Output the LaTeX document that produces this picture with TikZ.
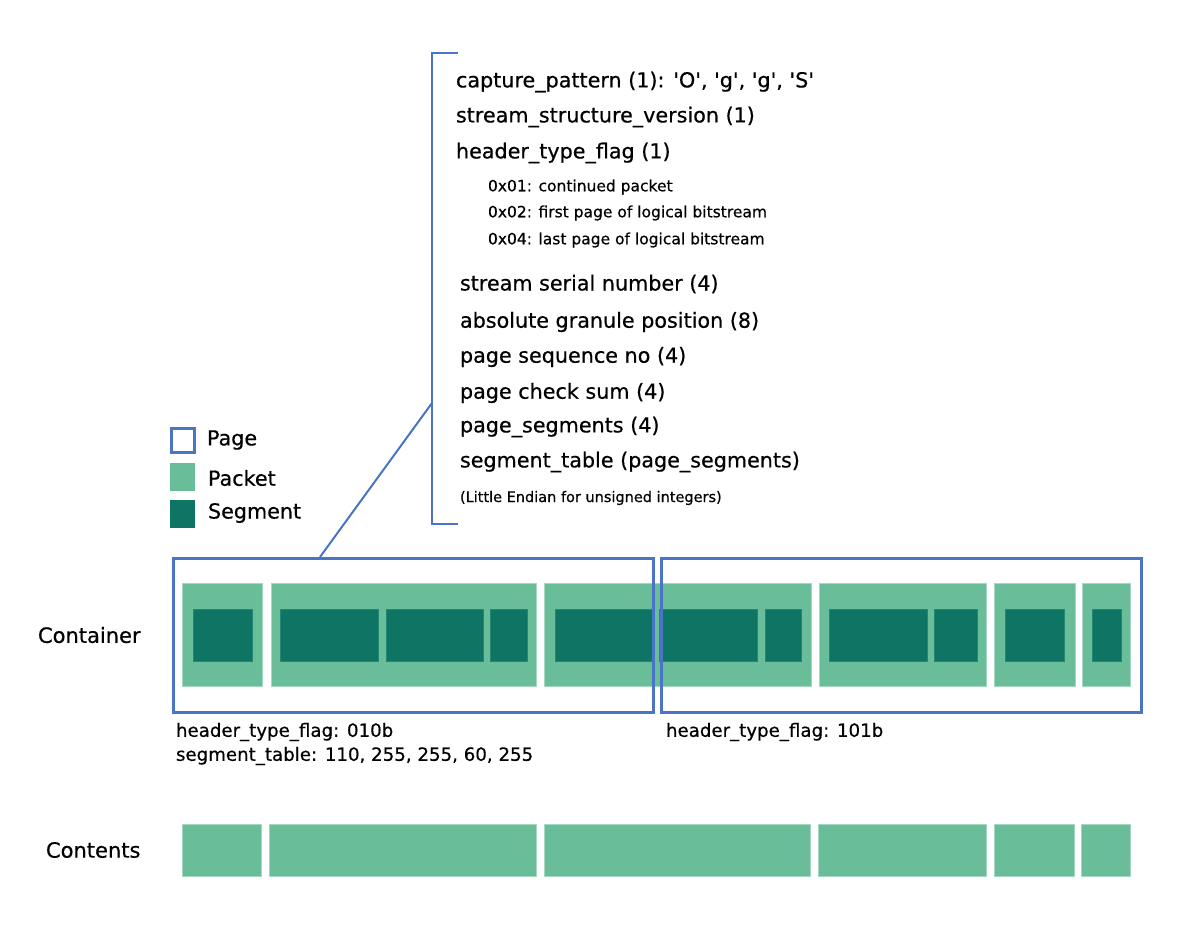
\documentclass[tikz,border=0pt]{standalone}
\usepackage{fontspec}
\setmainfont{DejaVu Sans}[FakeBold=0.5]
\definecolor{pageblue}{HTML}{4A74C6}
\definecolor{packetgreen}{HTML}{69BE99}
\definecolor{segteal}{HTML}{0E7565}
\newcommand\rbox[6]{\node[#1, minimum width={(#5-#3)*1pt}, minimum height={(#6-#4)*1pt}] (#2) at ({(#3+#5)/2},{(#4+#6)/2}) {};}
\newcommand\q{\textquotesingle}
\begin{document}
\begin{tikzpicture}[x=1pt,y=-1pt,
  every node/.style={inner sep=0pt, outer sep=0pt},
  pagebox/.style={draw=pageblue, line width=3pt},
  packetbox/.style={fill=packetgreen, draw=packetgreen!60!white, line width=0.6pt},
  segbox/.style={fill=segteal, draw=segteal!75!packetgreen, line width=0.6pt},
  big/.style={font=\fontsize{20.7}{24}\selectfont, anchor=west},
  small/.style={font=\fontsize{15.5}{18}\selectfont, anchor=west},
  lbl/.style={font=\fontsize{18.2}{22}\selectfont, anchor=west},
  bracketline/.style={draw=pageblue, line width=2pt}]
\useasboundingbox[fill=white] (0,0) rectangle (1200,927);

% legend
\rbox{draw=pageblue, line width=3pt}{legpage}{171}{428}{194}{452}
\rbox{fill=packetgreen}{legpacket}{170}{463}{195}{491}
\rbox{fill=segteal}{legseg}{170}{500}{195}{528}
\node[big, anchor=west] (legpaget) at (207,440) {Page};
\node[big, anchor=west] (legpackett) at (208,478) {Packet};
\node[big, anchor=west] (legsegt) at (208,513) {Segment};

% row labels
\node[big, anchor=west, font=\fontsize{21}{24}\selectfont] (container) at (38,635) {Container};
\node[big, anchor=west, font=\fontsize{21}{24}\selectfont] (contents) at (46,850) {Contents};

% packets in container
\rbox{packetbox}{p1}{182}{583}{262}{686}
\rbox{packetbox}{p2}{271}{583}{536}{686}
\rbox{packetbox}{p3}{544}{583}{811}{686}
\rbox{packetbox}{p4}{819}{583}{986}{686}
\rbox{packetbox}{p5}{994}{583}{1075}{686}
\rbox{packetbox}{p6}{1082}{583}{1130}{686}

% segments
\rbox{segbox}{s1}{193}{609}{252}{661}
\rbox{segbox}{s2}{280}{609}{378}{661}
\rbox{segbox}{s3}{386}{609}{483}{661}
\rbox{segbox}{s4}{490}{609}{527}{661}
\rbox{segbox}{s5}{555}{609}{653}{661}
\rbox{segbox}{s6}{659}{609}{757}{661}
\rbox{segbox}{s7}{765}{609}{801}{661}
\rbox{segbox}{s8}{829}{609}{927}{661}
\rbox{segbox}{s9}{934}{609}{977}{661}
\rbox{segbox}{s10}{1005}{609}{1064}{661}
\rbox{segbox}{s11}{1092}{609}{1121}{661}

% pages
\rbox{pagebox}{pg1}{173}{558}{653}{712}
\rbox{pagebox}{pg2}{661}{558}{1141}{712}

% page labels
\node[lbl] (flag1) at (176,732) {header\_type\_flag: 010b};
\node[lbl] (segtab) at (176,756) {segment\_table: 110, 255, 255, 60, 255};
\node[lbl] (flag2) at (666,732) {header\_type\_flag: 101b};

% contents
\rbox{packetbox}{c1}{182}{824}{261}{876}
\rbox{packetbox}{c2}{269}{824}{536}{876}
\rbox{packetbox}{c3}{544}{824}{810}{876}
\rbox{packetbox}{c4}{818}{824}{986}{876}
\rbox{packetbox}{c5}{994}{824}{1074}{876}
\rbox{packetbox}{c6}{1081}{824}{1130}{876}

% bracket and zoom line
\coordinate (brtop) at (458,53);
\coordinate (brbot) at (458,524);
\coordinate (brmid) at (432,403);
\coordinate (zoomfoot) at (320,557);
\draw[bracketline] (brtop) -- (432,53) -- (432,524) -- (brbot);
\draw[bracketline] (zoomfoot) -- (brmid);

% header fields
\node[big] (f1) at (456,82) {capture\_pattern (1): \q O\q, \q g\q, \q g\q, \q S\q};
\node[big] (f2) at (456,117) {stream\_structure\_version (1)};
\node[big] (f3) at (456,153) {header\_type\_flag (1)};
\node[small] (f3a) at (488,187) {0x01: continued packet};
\node[small] (f3b) at (488,213) {0x02: first page of logical bitstream};
\node[small] (f3c) at (488,240) {0x04: last page of logical bitstream};
\node[big] (f4) at (460,284) {stream serial number (4)};
\node[big] (f5) at (460,322) {absolute granule position (8)};
\node[big] (f6) at (460,357) {page sequence no (4)};
\node[big] (f7) at (460,393) {page check sum (4)};
\node[big] (f8) at (460,427) {page\_segments (4)};
\node[big] (f9) at (460,462) {segment\_table (page\_segments)};
\node[small, font=\fontsize{14.5}{17}\selectfont] (f10) at (460,498) {(Little Endian for unsigned integers)};
\end{tikzpicture}
\end{document}
